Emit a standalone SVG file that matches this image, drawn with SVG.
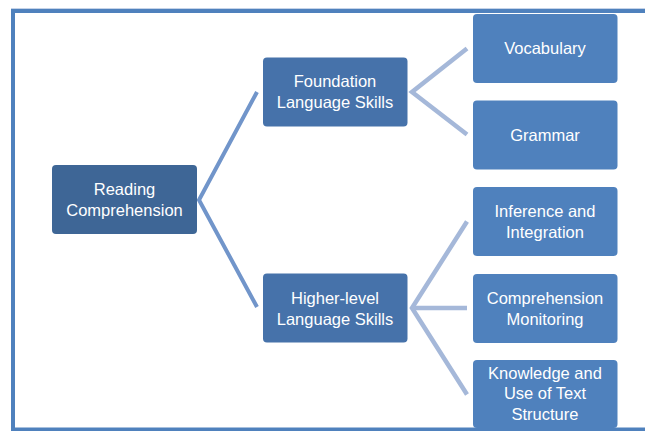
<svg xmlns="http://www.w3.org/2000/svg" width="645" height="431" viewBox="0 0 645 431">
<style>
.t{font-family:"Liberation Sans",Arial,sans-serif;font-size:16.5px;fill:#ffffff;text-anchor:middle}
.l1{fill:#3E6696}
.l2{fill:#4672AA}
.l3{fill:#4F81BD}
.c1{stroke:#7195CA;stroke-width:4;fill:none;stroke-linejoin:miter}
.c2{stroke:#A5B8D9;stroke-width:4.5;fill:none;stroke-linejoin:miter}
</style>
<rect width="645" height="431" fill="#ffffff"/>
<rect x="13" y="11" width="700" height="418.5" fill="none" stroke="#4F81BD" stroke-width="4"/>
<line x1="11" y1="8.5" x2="645" y2="8.5" stroke="#C5D3E8" stroke-width="1"/>
<g id="connectors">
<polyline class="c1" points="257,92 199,200 257,307"/>
<polyline class="c2" points="467,48.5 412,92 467,134.5"/>
<polyline class="c2" points="467,221.5 412,308 467,394.5"/>
<line class="c2" x1="412" y1="308" x2="467" y2="308"/>
</g>
<g id="reading">
<rect class="l1" x="52" y="165" width="145" height="69" rx="4"/>
<text class="t" x="124.5" y="195">Reading</text>
<text class="t" x="124.5" y="216">Comprehension</text>
</g>
<g id="foundation">
<rect class="l2" x="263" y="57.5" width="144.5" height="69" rx="4"/>
<text class="t" x="335" y="87">Foundation</text>
<text class="t" x="335" y="108">Language Skills</text>
</g>
<g id="higher">
<rect class="l2" x="263" y="273.5" width="144.5" height="69" rx="4"/>
<text class="t" x="335" y="303.5">Higher-level</text>
<text class="t" x="335" y="324.5">Language Skills</text>
</g>
<g id="vocabulary">
<rect class="l3" x="473" y="14" width="144.5" height="69" rx="4"/>
<text class="t" x="545" y="54">Vocabulary</text>
</g>
<g id="grammar">
<rect class="l3" x="473" y="100.5" width="144.5" height="69" rx="4"/>
<text class="t" x="545" y="140.5">Grammar</text>
</g>
<g id="inference">
<rect class="l3" x="473" y="187" width="144.5" height="69" rx="4"/>
<text class="t" x="545" y="217">Inference and</text>
<text class="t" x="545" y="238">Integration</text>
</g>
<g id="monitoring">
<rect class="l3" x="473" y="274" width="144.5" height="69" rx="4"/>
<text class="t" x="545" y="303.5">Comprehension</text>
<text class="t" x="545" y="324.5">Monitoring</text>
</g>
<g id="knowledge">
<rect class="l3" x="473" y="360" width="144.5" height="68" rx="4"/>
<text class="t" x="545" y="378.5">Knowledge and</text>
<text class="t" x="545" y="399">Use of Text</text>
<text class="t" x="545" y="420">Structure</text>
</g>
</svg>
